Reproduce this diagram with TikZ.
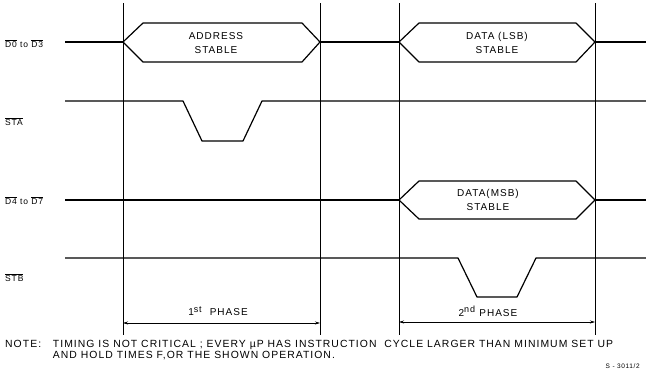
\documentclass[tikz,border=0pt]{standalone}
\usepackage{fontspec}
\setmainfont{Liberation Sans}[LetterSpace=10]
\usetikzlibrary{arrows.meta}
\newcommand{\lowact}[1]{$\overline{\hbox{#1}}$}
\tikzset{
  sig/.style={line width=1.2pt, line join=round},
  marker/.style={line width=0.6pt},
  lbl/.style={font=\fontsize{10}{12}\selectfont, inner sep=0pt},
  side/.style={font=\fontsize{8.5}{10}\selectfont, inner sep=0pt, anchor=west},
  phase/.style={line width=0.6pt, {Stealth[length=5pt,width=3pt]}-{Stealth[length=5pt,width=3pt]}}
}
\begin{document}
\begin{tikzpicture}[x=1pt,y=-1pt]
 \useasboundingbox (0,0) rectangle (646,373);
 %MARKERS
 \foreach \n/\x in {ma/123, mb/320, mc/399, md/595}{
   \coordinate (\n top) at (\x,3);
   \coordinate (\n bot) at (\x,335);
   \draw[marker] (\n top) -- (\n bot);
 }
 %LABELS
 \node[side] (dlow) at (5,44) {\lowact{D0} to \lowact{D3}};
 \node[side] (sta) at (5,122) {\lowact{STA}};
 \node[side] (dhigh) at (5,201) {\lowact{D4} to \lowact{D7}};
 \node[side] (stb) at (5,278) {\lowact{STB}};
 %D0 TO D3
 \draw[sig] (65,42) -- (123,42);
 \draw[sig] (123,42) -- (143,23) -- (302,23) -- (320,42) -- (302,62) -- (143,62) -- cycle;
 \draw[sig] (320,42) -- (399,42);
 \draw[sig] (399,42) -- (419,23) -- (576,23) -- (595,42) -- (576,62) -- (419,62) -- cycle;
 \draw[sig] (595,42) -- (646,42);
 \node[lbl, align=center] (addr) at (216,43) {ADDRESS\\[2.5pt]STABLE};
 \node[lbl, align=center] (lsb) at (497,43) {DATA (LSB)\\[2.5pt]STABLE};
 %STA
 \draw[sig] (65,101) -- (183,101) -- (202,141) -- (243,141) -- (262,101) -- (646,101);
 %D4 TO D7
 \draw[sig] (65,200) -- (399,200);
 \draw[sig] (399,200) -- (419,181) -- (576,181) -- (595,200) -- (576,219) -- (419,219) -- cycle;
 \draw[sig] (595,200) -- (646,200);
 \node[lbl, align=center] (msb) at (488,200) {DATA(MSB)\\[2.5pt]STABLE};
 %STB
 \draw[sig] (65,258) -- (458,258) -- (477,297) -- (517,297) -- (536,258) -- (646,258);
 %PHASES
 \coordinate (pa) at (123,323);
 \coordinate (pb) at (320,323);
 \coordinate (pc) at (399,322);
 \coordinate (pd) at (595,322);
 \draw[phase] (pa) -- (pb);
 \draw[phase] (pc) -- (pd);
 \node[lbl] (first) at (218,311) {1$^{\hbox{\fontsize{9}{10}\selectfont st}}$\ \ PHASE};
 \node[lbl] (second) at (488,311) {2$^{\hbox{\fontsize{9}{10}\selectfont nd}}$\ PHASE};
 %NOTE
 \node[lbl, font=\fontsize{10.4}{12}\selectfont, anchor=north west, align=left] (note) at (5,340)
   {NOTE:\ \ \ TIMING IS NOT CRITICAL ; EVERY µP HAS INSTRUCTION\ \ CYCLE LARGER THAN MINIMUM SET UP\\[-1pt]
    \hphantom{NOTE:\ \ \ }AND HOLD TIMES F,OR THE SHOWN OPERATION.};
 \node[font=\fontsize{6.5}{7}\selectfont, inner sep=0pt, anchor=east] (ref) at (640,366) {S - 3011/2};
\end{tikzpicture}
\end{document}
